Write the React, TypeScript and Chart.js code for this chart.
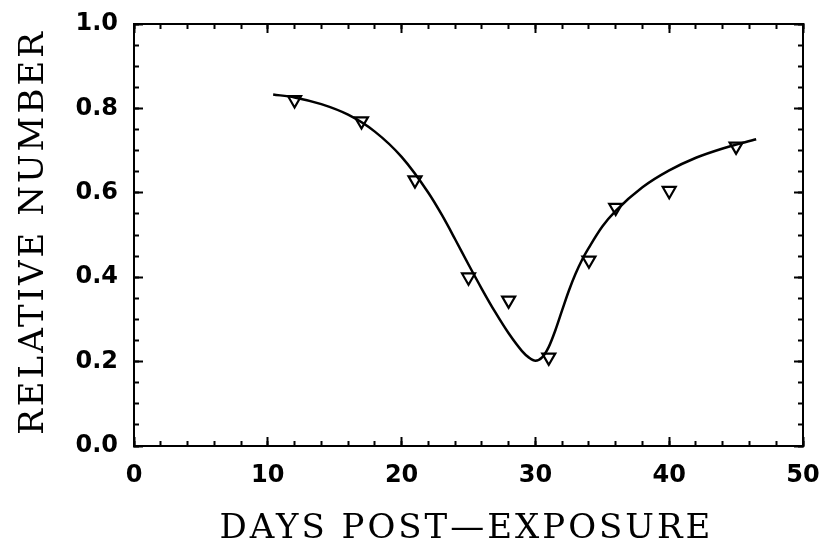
import { useEffect, useRef } from "react";
import { Chart, registerables } from "chart.js";

Chart.register(...registerables);

// Observed points (triangles)
const obsDays = [12, 17, 21, 25, 28, 31, 34, 36, 40, 45];
const obsValues = [0.82, 0.77, 0.63, 0.4, 0.345, 0.21, 0.44, 0.565, 0.605, 0.71];

// Fitted smooth curve
const fitDays = [10.4, 12, 14, 16, 18, 20, 22, 23, 24, 25, 26, 27, 28, 29, 29.5, 30, 30.5, 31, 31.5, 32, 32.5, 33, 33.5, 34, 35, 36, 38, 40, 42, 44, 46.5];
const fitValues = [0.833, 0.826, 0.81, 0.785, 0.745, 0.685, 0.6, 0.548, 0.49, 0.43, 0.372, 0.317, 0.267, 0.225, 0.21, 0.202, 0.21, 0.235, 0.275, 0.322, 0.368, 0.408, 0.442, 0.47, 0.52, 0.557, 0.613, 0.653, 0.683, 0.705, 0.727];

const xTickLabels = ["0", "10", "20", "30", "40", "50"];
const yTickLabels = ["0.0", "0.2", "0.4", "0.6", "0.8", "1.0"];
const xTitle = "DAYS POST—EXPOSURE";
const yTitle = "RELATIVE NUMBER";

const W = 821;
const H = 546;
const AREA_LEFT = 134;
const AREA_RIGHT = 803;
const AREA_TOP = 24;
const AREA_BOTTOM = 446;

const tickFont = { family: "'DejaVu Sans'", size: 24, weight: "bold" as const };

function tickAxis(position: string, isX: boolean, major: boolean, size: number, withLabels: boolean) {
  const axis: any = {
    type: "linear",
    position,
    min: 0,
    max: isX ? 50 : 1,
    weight: major ? 1 : 0,
    ticks: {
      display: withLabels,
      stepSize: isX ? (major ? 10 : 2) : major ? 0.2 : 0.05,
      autoSkip: false,
      maxRotation: 0,
      minRotation: 0,
      color: "#000",
      font: tickFont,
      padding: isX ? 24 : 25,
      callback: (_v: any, i: number) => (isX ? xTickLabels[i] : yTickLabels[i]) ?? "",
    },
    grid: {
      display: true,
      drawOnChartArea: false,
      drawTicks: true,
      tickLength: major ? -9 : -5,
      tickWidth: 2,
      tickColor: "#000",
    },
    border: { display: major, color: "#000", width: 2 },
    afterFit: (s: any) => {
      if (isX) s.height = size;
      else s.width = size;
      s.paddingLeft = 0;
      s.paddingRight = 0;
      s.paddingTop = 0;
      s.paddingBottom = 0;
    },
  };
  return axis;
}

const titlePlugin = {
  id: "axisTitles",
  afterDraw(chart: any) {
    const ctx = chart.ctx as CanvasRenderingContext2D;
    const area = chart.chartArea;
    ctx.save();
    ctx.fillStyle = "#000";
    ctx.font = "34px 'DejaVu Serif'";
    (ctx as any).letterSpacing = "3px";
    ctx.textAlign = "center";
    ctx.textBaseline = "alphabetic";
    ctx.fillText(xTitle, (area.left + area.right) / 2 - 2, area.bottom + 92);
    ctx.translate(43, (area.top + area.bottom) / 2 - 3);
    ctx.rotate(-Math.PI / 2);
    ctx.fillText(yTitle, 0, 0);
    ctx.restore();
  },
};

export default function App() {
  const ref = useRef<HTMLCanvasElement | null>(null);

  useEffect(() => {
    document.body.style.margin = "0";
    const canvas = ref.current;
    if (!canvas) return;
    const chart = new Chart(canvas, {
      type: "scatter",
      data: {
        datasets: [
          {
            label: "fit",
            data: fitDays.map((d, i) => ({ x: d, y: fitValues[i] })),
            showLine: true,
            borderColor: "#000",
            borderWidth: 2.5,
            pointRadius: 0,
            cubicInterpolationMode: "monotone",
            fill: false,
            xAxisID: "x",
            yAxisID: "y",
          } as any,
          {
            label: "observed",
            data: obsDays.map((d, i) => ({ x: d, y: obsValues[i] })),
            showLine: false,
            pointStyle: "triangle",
            rotation: 180,
            pointRadius: 7.5,
            pointBorderWidth: 2.2,
            borderColor: "#000",
            backgroundColor: "#fff",
            pointBackgroundColor: "#fff",
            pointBorderColor: "#000",
            xAxisID: "x",
            yAxisID: "y",
          } as any,
        ],
      },
      options: {
        responsive: false,
        maintainAspectRatio: false,
        animation: false,
        layout: { padding: 0 },
        plugins: {
          legend: { display: false },
          tooltip: { enabled: false },
          title: { display: false },
        },
        scales: {
          x: tickAxis("bottom", true, true, H - AREA_BOTTOM, true),
          xMinor: tickAxis("bottom", true, false, 0, false),
          xTop: tickAxis("top", true, true, AREA_TOP, false),
          xTopMinor: tickAxis("top", true, false, 0, false),
          y: tickAxis("left", false, true, AREA_LEFT, true),
          yMinor: tickAxis("left", false, false, 0, false),
          yRight: tickAxis("right", false, true, W - AREA_RIGHT, false),
          yRightMinor: tickAxis("right", false, false, 0, false),
        } as any,
      },
      plugins: [titlePlugin],
    });
    return () => chart.destroy();
  }, []);

  return (
    <div style={{ width: W, height: H, background: "#fff" }}>
      <canvas ref={ref} width={W} height={H} style={{ display: "block" }} />
    </div>
  );
}
